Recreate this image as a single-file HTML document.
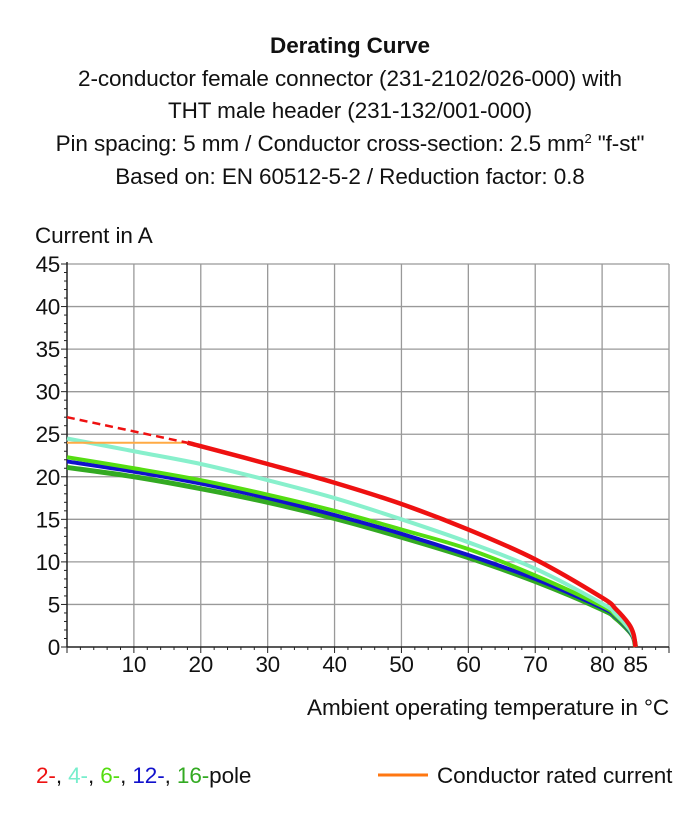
<!DOCTYPE html>
<html><head><meta charset="utf-8"><style>
body{margin:0;background:#fff;}
svg text{font-family:"Liberation Sans",sans-serif;fill:#111;}
</style></head><body>
<svg width="697" height="817" viewBox="0 0 697 817">
<g text-anchor="middle" font-size="22.5" letter-spacing="-0.1">
<text x="350" y="53" font-weight="bold">Derating Curve</text>
<text x="350" y="86">2-conductor female connector (231-2102/026-000) with</text>
<text x="350" y="118">THT male header (231-132/001-000)</text>
<text x="350" y="151">Pin spacing: 5 mm / Conductor cross-section: 2.5 mm<tspan font-size="13" dy="-8">2</tspan><tspan dy="8"> "f-st"</tspan></text>
<text x="350" y="184">Based on: EN 60512-5-2 / Reduction factor: 0.8</text>
</g>
<text x="35" y="243" font-size="22.5" letter-spacing="-0.1">Current in A</text>
<text x="669" y="715" font-size="22.5" letter-spacing="-0.1" text-anchor="end">Ambient operating temperature in °C</text>
<g id="grid"></g>
<g id="axes"></g>
<g id="series"></g>
<g font-size="22.5" letter-spacing="-0.1">
<text x="36" y="783"><tspan fill="#ee1111">2-</tspan><tspan>, </tspan><tspan fill="#77eecc">4-</tspan><tspan>, </tspan><tspan fill="#55dd11">6-</tspan><tspan>, </tspan><tspan fill="#1111cc">12-</tspan><tspan>, </tspan><tspan fill="#33aa22">16-</tspan><tspan>pole</tspan></text>
<line x1="378" y1="775" x2="428" y2="775" stroke="#ff7711" stroke-width="3"/>
<text x="437" y="783">Conductor rated current</text>
</g>
</svg>
<script>
const xTicks=[10,20,30,40,50,60,70,80,85];
const yTicks=[0,5,10,15,20,25,30,35,40,45];
const temps=[0,10,20,30,40,50,60,70,80,82,84,84.7,85];
const pole4=[24.5,23,21.5,19.6,17.5,15.0,12.3,9.2,5.1,3.9,2.2,1.2,0];
const pole6=[22.3,21,19.6,17.9,16.0,13.8,11.5,8.4,4.8,3.7,2.1,1.2,0];
const pole12=[21.8,20.6,19.2,17.5,15.5,13.3,10.8,8.0,4.6,3.6,2.0,1.1,0];
const pole16=[21.1,20.0,18.6,17.0,15.1,12.9,10.5,7.7,4.4,3.4,1.9,1.1,0];
const redTemps=[18,20,30,40,50,60,70,80,82,84,84.7,85];
const pole2=[24,23.6,21.5,19.3,16.8,13.8,10.3,5.8,4.5,2.7,1.5,0];
const dashTemps=[0,18];const dashVals=[27,24];
const ratedTemps=[0,18];const ratedVals=[24,24];
const X=t=>67+t*(602/90), Y=v=>647-v*(383/45);
const NS='http://www.w3.org/2000/svg';
function mk(tag,attrs,parent){const e=document.createElementNS(NS,tag);for(const k in attrs)e.setAttribute(k,attrs[k]);parent.appendChild(e);return e;}
const grid=document.getElementById('grid'),axes=document.getElementById('axes'),ser=document.getElementById('series');
for(let t=10;t<=90;t+=10){const l=mk('line',{x1:X(t),x2:X(t),y1:Y(45),y2:Y(0),stroke:'#999','stroke-width':1.3},grid);

}
for(let v=5;v<=45;v+=5){const l=mk('line',{x1:X(0),x2:X(90),y1:Y(v),y2:Y(v),stroke:'#999','stroke-width':1.3},grid);

}
mk('line',{x1:X(0),x2:X(0),y1:Y(45)-2,y2:Y(0),stroke:'#222','stroke-width':1.5},axes);
mk('line',{x1:X(0),x2:X(90),y1:Y(0),y2:Y(0),stroke:'#222','stroke-width':1.5},axes);
for(let v=0;v<=45;v++){mk('line',{x1:X(0)-(v%5?3:6),x2:X(0),y1:Y(v),y2:Y(v),stroke:'#222','stroke-width':1},axes);}
for(let t=0;t<=90;t+=2){mk('line',{x1:X(t),x2:X(t),y1:Y(0),y2:Y(0)+(t%10?3:6),stroke:'#222','stroke-width':1},axes);}
yTicks.forEach(v=>{const e=mk('text',{x:X(0)-7,y:Y(v)+8,'text-anchor':'end','font-size':22.5,'letter-spacing':'-0.3'},axes);e.textContent=v;

});
xTicks.forEach(t=>{const e=mk('text',{x:X(t),y:Y(0)+25,'text-anchor':'middle','font-size':22.5,'letter-spacing':'-0.3'},axes);e.textContent=t;

});
function path(ts,vs){let d='M'+X(ts[0])+','+Y(vs[0]);
for(let i=0;i<ts.length-1;i++){const p0=[X(ts[Math.max(i-1,0)]),Y(vs[Math.max(i-1,0)])],p1=[X(ts[i]),Y(vs[i])],p2=[X(ts[i+1]),Y(vs[i+1])],p3=[X(ts[Math.min(i+2,ts.length-1)]),Y(vs[Math.min(i+2,ts.length-1)])];
const c1=[p1[0]+(p2[0]-p0[0])/6,p1[1]+(p2[1]-p0[1])/6],c2=[p2[0]-(p3[0]-p1[0])/6,p2[1]-(p3[1]-p1[1])/6];
d+=' C'+c1+' '+c2+' '+p2;}return d;}
function line(ts,vs,col,w,name,dash){const p=mk('path',{d:path(ts,vs),fill:'none',stroke:col,'stroke-width':w,'stroke-linecap':'butt','stroke-linejoin':'round'},ser);if(dash)p.setAttribute('stroke-dasharray',dash);

}
line(temps,pole16,'#33aa22',5,'line-16-pole');
line(temps,pole12,'#1111cc',4,'line-12-pole');
line(temps,pole6,'#55dd11',4,'line-6-pole');
line(temps,pole4,'#88f0cc',4,'line-4-pole');
line(ratedTemps,ratedVals,'#ffaa44',2,'line-rated-current');
line(dashTemps,dashVals,'#ee1111',2.5,'line-2-pole-extrapolated','8,5');
line(redTemps,pole2,'#ee1111',4.5,'line-2-pole');
</script>
</body></html>
